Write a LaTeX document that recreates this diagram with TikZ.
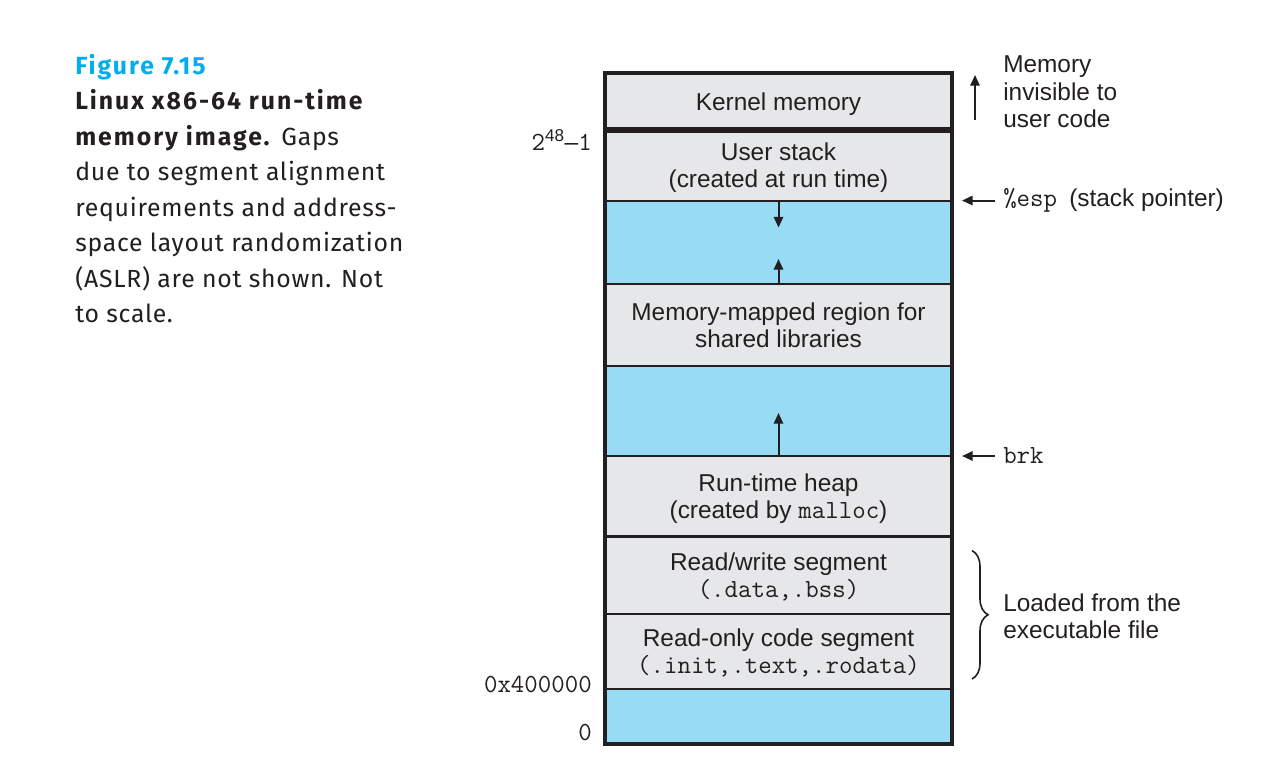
\documentclass[tikz,border=0pt]{standalone}
\usepackage{fontspec}
\setsansfont{Liberation Sans}
\newfontfamily\capfont[LetterSpace=3,BoldFeatures={LetterSpace=8}]{Fira Sans}
\usepackage{tikz}
\usetikzlibrary{arrows.meta,positioning,calc,decorations.pathreplacing}
\definecolor{ink}{RGB}{35,31,32}
\definecolor{segfill}{RGB}{230,231,232}
\definecolor{gapfill}{RGB}{151,219,245}
\definecolor{figcyan}{RGB}{0,174,239}
\newcommand{\mono}[1]{{\fontsize{19.6}{20.6}\ttfamily #1}}

\begin{document}
\begin{tikzpicture}[x=0.75pt,y=-0.75pt,font={\sffamily\fontsize{18.3}{20.6}\selectfont},text=ink]
\tikzstyle{seg} = [draw=ink, line width=1.5pt, fill=segfill, minimum width=260.25pt, inner sep=0pt, outer sep=0pt, align=center, text depth=0pt]
\tikzstyle{gap} = [seg, fill=gapfill]
\tikzstyle{ptr} = [draw=ink, line width=1.5pt, -{Triangle[length=8pt,width=7pt]}]
\tikzstyle{lbl} = [inner sep=0pt, align=left]
\useasboundingbox (0,0) rectangle (1274,776);
% caption
\node[lbl, anchor=north west, font={\capfont\fontsize{18.6}{26.6}\selectfont}] (cap) at (75,54)
    {\textbf{\color{figcyan}Figure 7.15}\\\textbf{Linux x86-64 run-time}\\\textbf{memory image.} Gaps\\due to segment alignment\\requirements and address-\\space layout randomization\\(ASLR) are not shown. Not\\to scale.};
% address space
\node[seg, minimum height=42.75pt] (kern) at (778.5,101.5) {Kernel memory};
\node[seg, minimum height=52.9pt, below=0pt of kern] (ustack) {User stack\\(created at run time)};
\node[gap, minimum height=62.6pt, below=0pt of ustack] (gap1) {};
\node[seg, minimum height=61.5pt, below=0pt of gap1] (mmap) {Memory-mapped region for\\shared libraries};
\node[gap, minimum height=67.5pt, below=0pt of mmap] (gap2) {};
\node[seg, minimum height=60.4pt, below=0pt of gap2] (heap) {Run-time heap\\(created by \mono{malloc})};
\node[seg, minimum height=57.75pt, below=0pt of heap] (rw) {Read/write segment\\\mono{(.data,.bss)}};
\node[seg, minimum height=56.6pt, below=0pt of rw] (ro) {Read-only code segment\\\mono{(.init,.text,.rodata)}};
\node[gap, minimum height=41.25pt, below=0pt of ro] (gap3) {};
\draw[ink, line width=2.6pt] (kern.north west) rectangle (gap3.south east);
\draw[ink, line width=4pt] (kern.south west) -- (kern.south east);
\draw[ink, line width=2.3pt] (heap.south west) -- (heap.south east);
% growth arrows
\coordinate (sdown) at ($(ustack.south)+(0,27)$);
\coordinate (mup) at ($(mmap.north)+(0,-25)$);
\coordinate (hup) at ($(heap.north)+(0,-43)$);
\draw[ptr] (ustack.south) -- (sdown);
\draw[ptr] (mmap.north) -- (mup);
\draw[ptr] (heap.north) -- (hup);
% addresses
\node[anchor=base east, inner sep=0pt] (amax) at (592,150) {\mono{2}\textsuperscript{48}\textendash\mono{1}};
\node[anchor=base east, inner sep=0pt] (atext) at (592,692) {\mono{0x400000}};
\node[anchor=base east, inner sep=0pt] (azero) at (592,740) {\mono{0}};
% right side
\coordinate (invbot) at ($(kern.south east)+(23,-10)$);
\coordinate (invtop) at ($(kern.north east)+(23,2)$);
\draw[ptr] (invbot) -- (invtop);
\node[lbl, anchor=north west] (inv) at (1003,55.5) {Memory\\invisible to\\user code};
\coordinate (espa) at ($(ustack.south east)+(43,0)$);
\coordinate (espb) at ($(ustack.south east)+(10,0)$);
\draw[ptr] (espa) -- (espb);
\node[lbl, right=6pt of espa] (esp) {\mono{\%esp}\hspace{0.5em}(stack pointer)};
\coordinate (brka) at ($(heap.north east)+(43,0)$);
\coordinate (brkb) at ($(heap.north east)+(10,0)$);
\draw[ptr] (brka) -- (brkb);
\node[lbl, right=6pt of brka] (brk) {\mono{brk}};
\coordinate (brt) at ($(heap.south east)+(20,14)$);
\coordinate (brb) at ($(ro.south east)+(20,-10)$);
\draw[ink, line width=1.2pt, decorate, decoration={brace, amplitude=12pt}] (brt) -- (brb);
\node[lbl, anchor=north west] (load) at (1003,593.5) {Loaded from the\\executable file};
\end{tikzpicture}
\end{document}
